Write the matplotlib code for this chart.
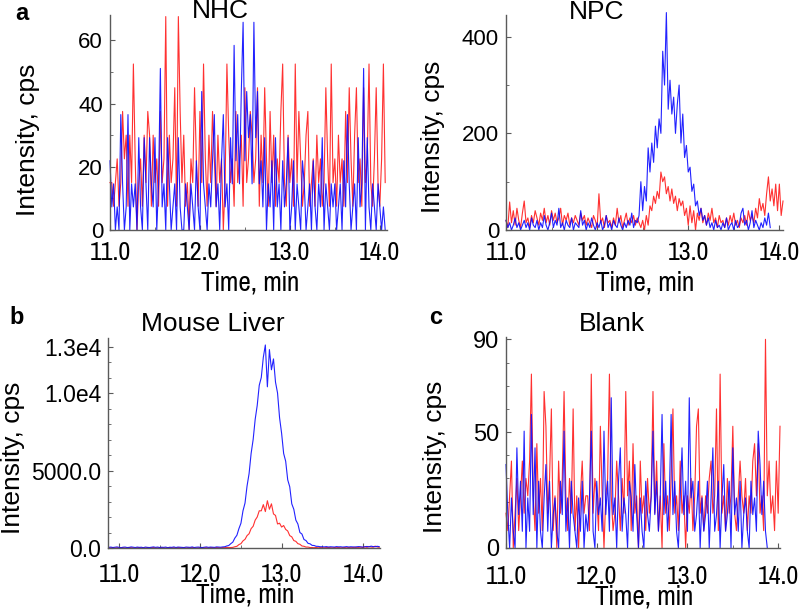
import numpy as np
import matplotlib
matplotlib.use("Agg")
import matplotlib.pyplot as plt
import matplotlib.transforms as mtransforms
from matplotlib import font_manager
from matplotlib.font_manager import FontProperties
from matplotlib.textpath import TextPath
from matplotlib.ticker import MultipleLocator

# ---------------- data ----------------
# Panel a: NHC (cps), sampled every 0.02 min from 11.0 min
nhc_t0, nhc_dt = 11.0, 0.02
nhc_red = [15,15,7.5,15,22.5,7.5,15,37.5,22.5,30,
           7.5,30,15,52.5,22.5,0,15,22.5,7.5,30,
           15,37.5,30,7.5,30,15,22.5,7.5,37.5,15,
           22.5,67.5,7.5,30,15,22.5,45,7.5,67.5,37.5,
           15,30,7.5,15,0,22.5,15,45,22.5,7.5,
           37.5,15,52.5,22.5,7.5,30,15,37.5,22.5,7.5,
           30,15,22.5,0,15,52.5,30,15,22.5,7.5,
           37.5,15,22.5,30,7.5,45,15,22.5,37.5,30,
           15,22.5,45,7.5,30,15,45,22.5,7.5,37.5,
           15,30,7.5,22.5,15,37.5,52.5,15,7.5,30,
           15,22.5,7.5,52.5,15,37.5,22.5,7.5,15,30,
           37.5,7.5,15,22.5,7.5,30,15,22.5,7.5,15,
           45,22.5,7.5,52.5,15,22.5,7.5,30,15,22.5,
           7.5,37.5,15,45,22.5,7.5,30,45,15,22.5,
           7.5,45,15,22.5,52.5,15,7.5,22.5,45,15,
           7.5,22.5,52.5,15]
nhc_blue = [21.9,7.3,14.6,0,7.3,0,36.5,14.6,0,7.3,
            36.5,0,14.6,7.3,14.6,0,29.2,7.3,0,29.2,
            14.6,0,29.2,14.6,7.3,29.2,0,14.6,51.1,7.3,
            14.6,0,29.2,14.6,0,7.3,14.6,0,29.2,7.3,
            0,0,14.6,7.3,0,14.6,7.3,0,21.9,7.3,
            0,43.8,14.6,7.3,0,14.6,7.3,21.9,36.5,7.3,
            14.6,0,21.9,36.5,7.3,14.6,0,29.2,14.6,58.4,
            21.9,36.5,14.6,43.8,65.7,21.9,43.8,29.2,36.5,14.6,
            65.7,29.2,43.8,14.6,21.9,7.3,29.2,0,14.6,7.3,
            21.9,0,29.2,7.3,14.6,0,21.9,7.3,14.6,29.2,
            0,7.3,21.9,0,14.6,7.3,0,21.9,14.6,0,
            7.3,14.6,0,21.9,7.3,0,14.6,7.3,29.2,0,
            14.6,7.3,0,14.6,7.3,14.6,0,7.3,14.6,0,
            21.9,7.3,36.5,14.6,0,7.3,14.6,0,29.2,7.3,
            14.6,51.1,0,29.2,7.3,0,14.6,7.3,0,14.6,
            7.3,0,7.3,0]

# Panel NPC
npc_t0, npc_dt = 11.0, 0.02
npc_red = [20,5,58,15,40,10,45,20,5,35,
           60,15,25,5,30,15,40,25,10,35,
           20,45,15,30,10,40,20,35,15,25,
           45,10,30,20,35,10,25,15,30,20,
           10,35,20,30,10,25,15,5,30,20,
           5,75,15,25,5,30,15,20,5,25,
           10,45,15,30,5,20,35,10,25,15,
           30,10,25,15,5,20,0,30,10,50,
           40,70,55,80,65,120,100,110,75,90,
           60,85,55,70,40,65,50,60,30,45,
           10,50,15,40,0,35,20,45,15,30,
           10,35,20,45,15,25,5,30,15,20,
           5,25,10,30,15,35,10,20,5,25,
           15,30,10,40,20,30,15,45,25,65,
           40,55,30,75,110,60,85,50,95,40,
           95,30,60]
npc_blue = [20,5,15,0,10,25,5,15,0,10,
            20,5,15,0,25,10,5,20,0,15,
            5,30,10,0,15,35,5,20,10,45,
            5,15,0,20,10,5,25,0,15,10,
            5,40,10,20,0,15,5,25,10,0,
            15,5,20,0,10,30,5,15,0,20,
            10,5,25,10,0,15,5,20,10,35,
            5,20,15,30,100,40,90,60,170,120,
            180,140,215,170,230,200,370,300,450,250,
            310,240,275,200,260,300,180,240,150,175,
            120,130,80,95,50,60,30,45,20,30,
            10,25,5,15,0,20,5,10,0,15,
            5,25,0,10,15,0,20,5,10,35,
            45,10,20,0,15,40,5,20,10,0,
            15,5,25,10,35,5]

# Panel b: Mouse Liver, sampled every 0.025 min from 10.875 min
ml_t0, ml_dt = 10.875, 0.025
ml_blue = [40,60,30,50,70,40,20,50,60,30,
           40,70,50,30,60,40,50,20,60,40,
           30,50,70,40,60,30,50,40,60,20,
           50,40,70,30,60,50,40,30,60,50,
           40,70,30,50,60,40,30,50,70,40,
           60,50,40,70,60,50,70,
           80,130,160,280,380,640,820,1250,1600,2400,
           2900,4000,4800,6100,7000,8300,9200,10500,11000,12300,
           13100,10400,12800,11500,12200,10700,10000,8400,7400,6100,
           5600,4400,3950,2850,2500,1800,1550,1000,900,550,
           480,300,270,170,160,110,105,80,
           80,70,90,60,80,70,60,90,70,80,
           60,70,90,60,80,70,60,80,90,70,
           60,80,100,70,120,90,80,110,90]
ml_red = [20,10,30,0,20,10,30,20,0,10,
          30,20,10,0,20,30,10,20,0,30,
          10,20,30,0,10,20,30,10,0,20,
          30,10,20,0,30,20,10,30,0,20,
          10,30,20,0,10,20,30,10,20,0,
          30,20,10,30,20,10,30,20,40,30,
          30,
          40,80,110,220,280,460,560,800,920,1250,
          1400,1800,2000,2400,2400,2800,2350,3050,2500,2850,
          2200,2100,1550,1600,1350,1450,1200,1100,800,720,
          480,430,280,240,130,110,60,60,30,
          30,20,40,10,30,20,10,30,40,20,
          10,30,20,40,10,20,30,10,40,20,
          30,50,20,40,60,30,80,40,100,60,
          50,120,70,40]

# Panel c: Blank
bl_t0, bl_dt = 11.0, 0.02
bl_red = [15,7.5,22.5,37.5,0,15,30,7.5,22.5,37.5,
          15,30,22.5,37.5,75,22.5,7.5,45,15,30,
          7.5,67.5,52.5,15,30,60,7.5,22.5,0,37.5,
          15,30,67.5,22.5,7.5,30,15,60,7.5,22.5,
          0,22.5,37.5,15,22.5,22.5,7.5,75,15,30,
          22.5,7.5,52.5,22.5,0,22.5,30,75,22.5,7.5,
          15,37.5,22.5,7.5,30,15,67.5,22.5,37.5,7.5,
          45,15,22.5,0,37.5,15,22.5,7.5,30,15,
          22.5,67.5,15,37.5,7.5,22.5,0,45,15,22.5,
          7.5,30,60,15,22.5,7.5,37.5,15,22.5,0,
          22.5,15,30,7.5,22.5,52.5,60,15,22.5,7.5,
          22.5,15,30,37.5,15,22.5,60,7.5,75,15,
          22.5,7.5,30,15,22.5,52.5,15,7.5,22.5,37.5,
          22.5,15,30,7.5,22.5,15,37.5,45,22.5,45,
          15,22.5,7.5,90,22.5,37.5,15,22.5,7.5,37.5,
          15,52.5]
bl_blue = [36,14.4,0,21.6,7.2,0,43.2,14.4,28.8,7.2,
           50.4,0,21.6,7.2,57.6,14.4,43.2,0,28.8,7.2,
           0,21.6,36,7.2,28.8,0,14.4,21.6,7.2,0,
           28.8,14.4,50.4,7.2,21.6,0,28.8,14.4,7.2,0,
           21.6,7.2,28.8,0,14.4,7.2,21.6,50.4,7.2,0,
           28.8,14.4,21.6,7.2,50.4,14.4,28.8,7.2,64.8,14.4,
           21.6,0,28.8,43.2,7.2,21.6,14.4,0,28.8,21.6,
           7.2,36,14.4,0,21.6,7.2,0,28.8,14.4,7.2,
           21.6,50.4,14.4,28.8,7.2,21.6,57.6,14.4,28.8,7.2,
           21.6,57.6,14.4,28.8,7.2,0,21.6,43.2,14.4,28.8,
           7.2,64.8,21.6,28.8,7.2,14.4,28.8,0,21.6,7.2,
           14.4,28.8,0,21.6,43.2,7.2,14.4,28.8,0,21.6,
           36,7.2,14.4,28.8,0,43.2,14.4,21.6,7.2,28.8,
           0,14.4,21.6,7.2,0,28.8,14.4,21.6,7.2,50.4,
           36,14.4,28.8,7.2,0]

x_ticks = [11.0, 12.0, 13.0, 14.0]
x_ticklabels = ["11.0", "12.0", "13.0", "14.0"]
titles = ["NHC", "NPC", "Mouse Liver", "Blank"]
panel_letters = ["a", "b", "c"]
ylabel = "Intensity, cps"
xlabel = "Time, min"

nhc_yticks, nhc_ylabels = [0, 20, 40, 60], ["0", "20", "40", "60"]
npc_yticks, npc_ylabels = [0, 200, 400], ["0", "200", "400"]
ml_yticks, ml_ylabels = [0, 5000, 10000, 13000], ["0.0", "5000.0", "1.0e4", "1.3e4"]
bl_yticks, bl_ylabels = [0, 50, 90], ["0", "50", "90"]

# ---------------- style ----------------
names = {f.name for f in font_manager.fontManager.ttflist}
REG = "Liberation Sans" if "Liberation Sans" in names else "DejaVu Sans"
NARROW = REG
for cand in ["Liberation Sans Narrow", "Arial Narrow", "Pragati Narrow",
             "Roboto Condensed", "PT Sans Narrow", "Archivo Narrow",
             "Open Sans Condensed", "Fira Sans Condensed"]:
    if cand in names:
        NARROW = cand
        break
plt.rcParams["font.family"] = [REG, "DejaVu Sans"]


def fit_size(text, family, target_h_px, target_w_px):
    """font size (pt) whose glyph extents best match the measured pixel box"""
    ext = TextPath((0, 0), text, size=100, prop=FontProperties(family=family)).get_extents()
    s_h = target_h_px * 0.72 * 100 / ext.height
    s_w = target_w_px * 0.72 * 100 / ext.width
    return 0.5 * (s_h + s_w)


XT_SIZE = fit_size("11.0", NARROW, 19, 38)
XL_SIZE = fit_size("Time", NARROW, 21, 46)

W, H = 800, 614
fig = plt.figure(figsize=(W / 100, H / 100), dpi=100)

RED = "#ff1a1a"
BLUE = "#0a0aff"
AXC = "#5a5a5a"


def px_axes(l, r, t, b):
    return fig.add_axes([l / W, 1 - b / H, (r - l) / W, (b - t) / H])


def ftext(x, y, s, **kw):
    fig.text(x / W, 1 - y / H, s, **kw)


def times(t0, dt, vals):
    return t0 + dt * np.arange(len(vals))


def setup(ax, xlim, ylim, yticks, ylabels, yminor, ysize):
    ax.set_xlim(*xlim)
    ax.set_ylim(*ylim)
    for s in ("top", "right"):
        ax.spines[s].set_visible(False)
    for s in ("left", "bottom"):
        ax.spines[s].set_color(AXC)
        ax.spines[s].set_linewidth(1.0)
    ax.set_xticks(x_ticks, [""] * len(x_ticks))
    ax.set_yticks(yticks, ylabels, fontfamily=[REG], fontsize=ysize)
    ax.xaxis.set_minor_locator(MultipleLocator(0.5))
    ax.yaxis.set_minor_locator(MultipleLocator(yminor))
    ax.tick_params(which="major", direction="in", length=3.5, width=0.8, color=AXC)
    ax.tick_params(which="minor", direction="in", length=2, width=0.6, color=AXC)
    ax.tick_params(axis="y", which="major", pad=5)
    ax.patch.set_alpha(0)


def xtick_labels(ax, y_center_px):
    # condensed x tick labels, positioned on the axis' data scale
    trans = mtransforms.blended_transform_factory(ax.transData, fig.transFigure)
    yf = 1 - y_center_px / H
    for v, s in zip(x_ticks, x_ticklabels):
        ax.text(v, yf, s, transform=trans, ha="center", va="center_baseline",
                fontsize=XT_SIZE, fontfamily=[NARROW, REG], clip_on=False)


def draw(ax, tr, red, tb, blue):
    ax.plot(tr, red, color=RED, lw=0.8, clip_on=False, alpha=0.9)
    ax.plot(tb, blue, color=BLUE, lw=0.8, clip_on=False, alpha=0.9)


# Panel a: NHC
ax1 = px_axes(110, 387, 15, 230)
draw(ax1, times(nhc_t0, nhc_dt, nhc_red), nhc_red, times(nhc_t0, nhc_dt, nhc_blue), nhc_blue)
setup(ax1, (11.0, 14.08), (0, 68), nhc_yticks, nhc_ylabels, 10, 16)
xtick_labels(ax1, 251)

# Panel NPC
ax2 = px_axes(506, 783, 15, 230)
draw(ax2, times(npc_t0, npc_dt, npc_red), npc_red, times(npc_t0, npc_dt, npc_blue), npc_blue)
setup(ax2, (11.0, 14.04), (0, 445), npc_yticks, npc_ylabels, 100, 16)
xtick_labels(ax2, 251)

# Panel b: Mouse Liver
ax3 = px_axes(108, 380, 338, 548)
draw(ax3, times(ml_t0, ml_dt, ml_red), ml_red, times(ml_t0, ml_dt, ml_blue), ml_blue)
setup(ax3, (10.865, 14.21), (0, 13550), ml_yticks, ml_ylabels, 1000, 16.5)
xtick_labels(ax3, 572)

# Panel c: Blank
ax4 = px_axes(506, 780, 337, 548)
draw(ax4, times(bl_t0, bl_dt, bl_red), bl_red, times(bl_t0, bl_dt, bl_blue), bl_blue)
setup(ax4, (11.0, 14.02), (0, 91), bl_yticks, bl_ylabels, 10, 17)
xtick_labels(ax4, 575)

# Titles
ftext(220, 11, titles[0], ha="center", va="center", fontsize=19)
ftext(597, 12, titles[1], ha="center", va="center", fontsize=19)
ftext(213, 324, titles[2], ha="center", va="center", fontsize=19)
ftext(612, 324, titles[3], ha="center", va="center", fontsize=19)

# Panel letters
ftext(22, 13, panel_letters[0], ha="center", va="center", fontsize=17, fontweight="bold")
ftext(17, 318, panel_letters[1], ha="center", va="center", fontsize=17, fontweight="bold")
ftext(436, 317, panel_letters[2], ha="center", va="center", fontsize=17, fontweight="bold")

# Y labels
for (x, y) in [(28, 140), (433, 137), (13, 458), (435, 457)]:
    ftext(x, y, ylabel, ha="center", va="center", rotation=90, fontsize=19)

# X labels
for (x, y) in [(250, 280), (645, 280), (245, 593), (644, 595)]:
    ftext(x, y, xlabel, ha="center", va="center_baseline", fontsize=XL_SIZE,
          fontfamily=[NARROW, REG])

fig.savefig("out.png", dpi=100)
